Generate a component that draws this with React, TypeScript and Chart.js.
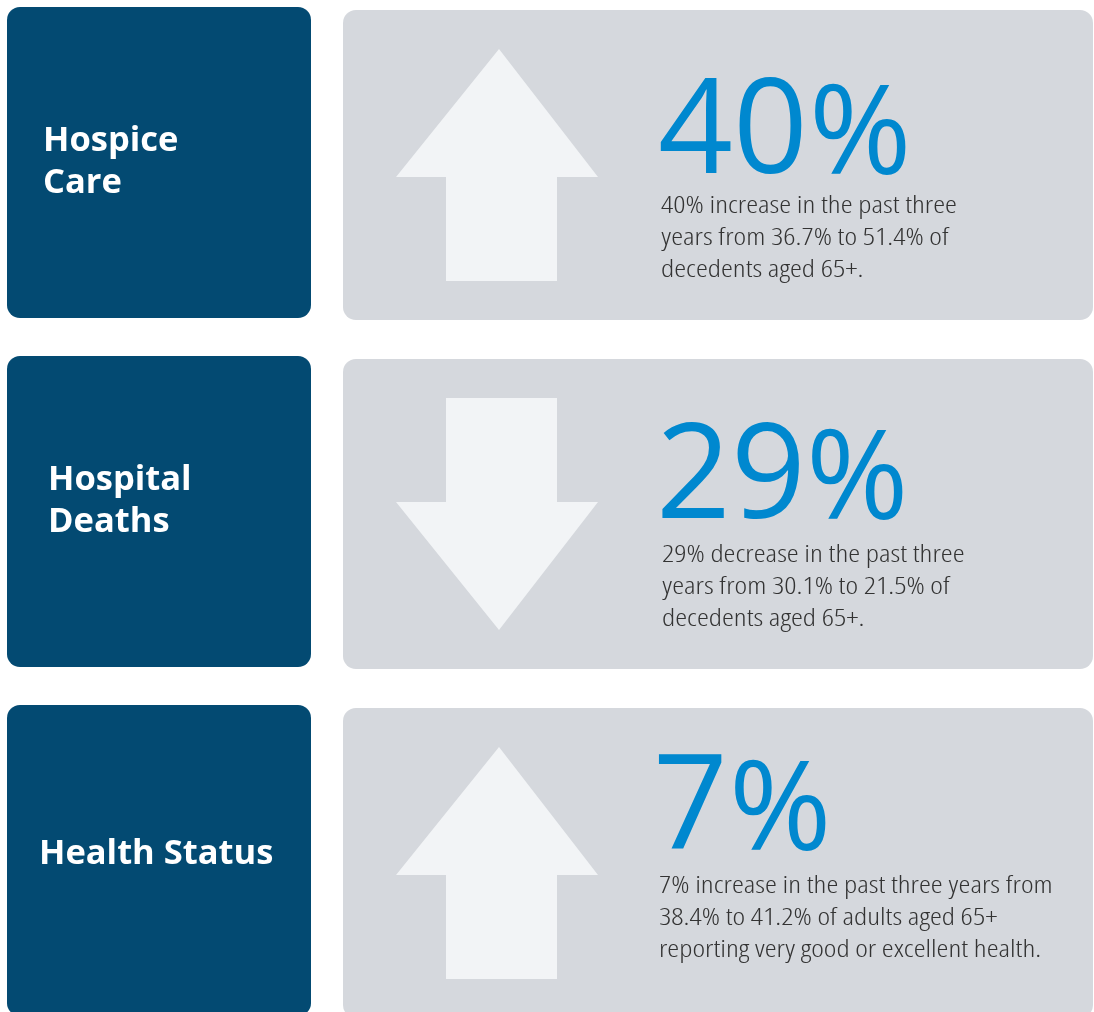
import { useEffect, useRef } from "react";
import { Chart, registerables } from "chart.js";

Chart.register(...registerables);

// ---- data ----
const categories = ["Hospice Care", "Hospital Deaths", "Health Status"];
const titleLines = [["Hospice", "Care"], ["Hospital", "Deaths"], ["Health Status"]];
const changeValues = [40, -29, 7];
const descriptions = [
  ["40% increase in the past three", "years from 36.7% to 51.4% of", "decedents aged 65+."],
  ["29% decrease in the past three", "years from 30.1% to 21.5% of", "decedents aged 65+."],
  [
    "7% increase in the past three years from",
    "38.4% to 41.2% of adults aged 65+",
    "reporting very good or excellent health.",
  ],
];

// ---- styling / layout constants ----
const DARK = "#034a72";
const PANEL = "#d5d8dd";
const ARROW = "#f2f4f6";
const BLUE = "#0088cf";
const TEXT = "#333333";

const TITLE_X = [43, 48, 39];
const TITLE_BASE = [144, 134, 159];
const NUM_X = [660, 662, 658];
const NUM_BASE = [166, 162, 144];
const DESC_X = [661, 662, 659];
const DESC_BASE = [206, 206, 188];
const DESC_REF_WIDTH = 296; // width of the first description line

const infographic = {
  id: "infographic",
  beforeDraw(chart: any) {
    const ctx = chart.ctx as CanvasRenderingContext2D;
    ctx.save();
    ctx.fillStyle = "#ffffff";
    ctx.fillRect(0, 0, chart.width, chart.height);
    ctx.restore();
  },
  afterDatasetsDraw(chart: any) {
    const ctx = chart.ctx as CanvasRenderingContext2D;
    const y = chart.scales.y;
    const pitch = y.getPixelForValue(1) - y.getPixelForValue(0);

    // description font and its horizontal condensing factor
    const descFont = '350 23px "Open Sans", "Noto Sans", sans-serif';
    ctx.save();
    ctx.font = descFont;
    (ctx as any).fontStretch = "condensed";
    const sx = DESC_REF_WIDTH / ctx.measureText(descriptions[0][0]).width;
    ctx.restore();

    categories.forEach((_, i) => {
      const c = y.getPixelForValue(i);
      const top = c - pitch * 0.4456;
      ctx.save();
      // dark title box
      ctx.fillStyle = DARK;
      ctx.beginPath();
      (ctx as any).roundRect(7, top, 304, 311, 13);
      ctx.fill();
      // gray panel
      ctx.fillStyle = PANEL;
      ctx.beginPath();
      (ctx as any).roundRect(343, top + 3, 750, 310, 13);
      ctx.fill();

      // arrow
      const v = changeValues[i];
      const a0 = top + 42;
      const a1 = top + 274;
      const head = 128;
      ctx.fillStyle = ARROW;
      ctx.beginPath();
      if (v >= 0) {
        ctx.moveTo(499, a0);
        ctx.lineTo(598, a0 + head);
        ctx.lineTo(557, a0 + head);
        ctx.lineTo(557, a1);
        ctx.lineTo(446, a1);
        ctx.lineTo(446, a0 + head);
        ctx.lineTo(396, a0 + head);
      } else {
        ctx.moveTo(446, a0);
        ctx.lineTo(557, a0);
        ctx.lineTo(557, a1 - head);
        ctx.lineTo(598, a1 - head);
        ctx.lineTo(499, a1);
        ctx.lineTo(396, a1 - head);
        ctx.lineTo(446, a1 - head);
      }
      ctx.closePath();
      ctx.fill();

      // title
      ctx.fillStyle = "#ffffff";
      ctx.font = 'bold 34.5px "Open Sans", "Noto Sans", sans-serif';
      ctx.textBaseline = "alphabetic";
      ctx.textAlign = "left";
      titleLines[i].forEach((ln, k) => {
        ctx.fillText(ln, TITLE_X[i], top + TITLE_BASE[i] + k * 42);
      });

      // big number
      const num = String(Math.abs(v));
      ctx.fillStyle = BLUE;
      ctx.font = '131px "Open Sans", "Noto Sans", sans-serif';
      const m = ctx.measureText(num);
      const nx = NUM_X[i] + m.actualBoundingBoxLeft;
      const base = top + NUM_BASE[i];
      ctx.fillText(num, nx, base);
      const inkRight = nx + m.actualBoundingBoxRight;
      ctx.font = '124px "Open Sans", "Noto Sans", sans-serif';
      const mp = ctx.measureText("%");
      ctx.fillText("%", inkRight + 13 + mp.actualBoundingBoxLeft, base + 1);

      // description
      ctx.fillStyle = TEXT;
      ctx.font = descFont;
      (ctx as any).fontStretch = "condensed";
      descriptions[i].forEach((ln, k) => {
        ctx.save();
        ctx.translate(DESC_X[i], top + DESC_BASE[i] + k * 32);
        ctx.scale(sx, 1);
        ctx.fillText(ln, 0, 0);
        ctx.restore();
      });
      ctx.restore();
    });
  },
};

export default function App() {
  const ref = useRef<HTMLCanvasElement | null>(null);
  useEffect(() => {
    document.body.style.margin = "0";
    document.body.style.background = "#ffffff";
    if (!ref.current) return;
    const chart = new Chart(ref.current, {
      type: "bar",
      data: {
        labels: categories,
        datasets: [
          {
            label: "Change over three years (%)",
            data: changeValues,
            backgroundColor: "rgba(0,0,0,0)",
            borderWidth: 0,
          },
        ],
      },
      options: {
        indexAxis: "y",
        animation: false,
        responsive: true,
        maintainAspectRatio: false,
        events: [],
        layout: { padding: { top: 162.5, bottom: 151.5, left: 0, right: 0 } },
        scales: {
          y: { type: "category", offset: false, display: false },
          x: { type: "linear", min: -50, max: 50, display: false },
        },
        plugins: {
          legend: { display: false },
          tooltip: { enabled: false },
          title: { display: false },
        },
      },
      plugins: [infographic],
    });
    return () => chart.destroy();
  }, []);
  return (
    <div style={{ position: "relative", width: 1094, height: 1012 }}>
      <canvas ref={ref} />
    </div>
  );
}
